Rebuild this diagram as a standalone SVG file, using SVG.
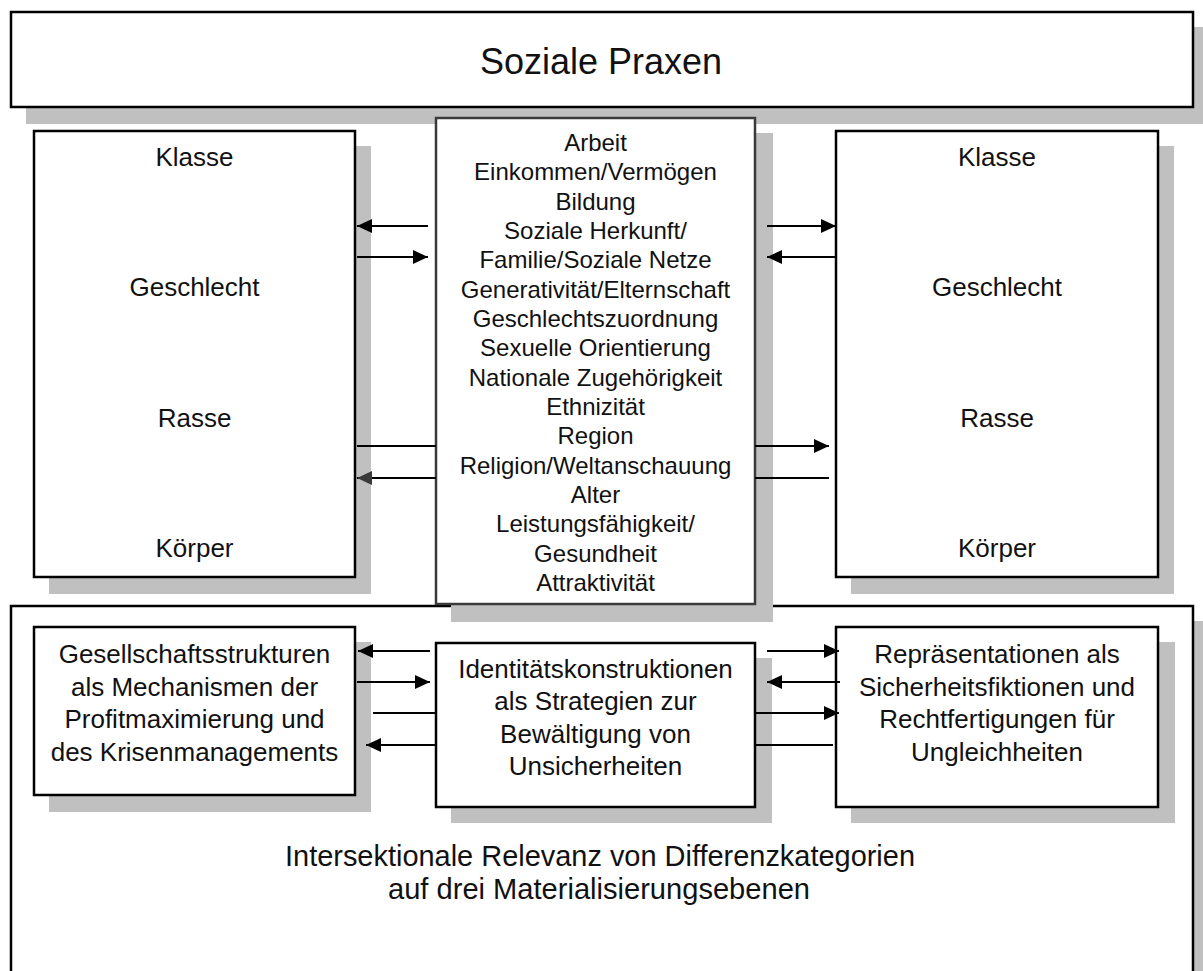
<svg xmlns="http://www.w3.org/2000/svg" width="1203" height="971" viewBox="0 0 1203 971">
<defs>
<style>
.sh{fill:#c0c0c0;stroke:none}
.bx{fill:#fff;stroke:#000;stroke-width:2.5}
.bxg{fill:#fff;stroke:#3a3a3a;stroke-width:2.5}
.t{font-family:"Liberation Sans",Arial,sans-serif;fill:#111;text-anchor:middle}
.t26{font-size:26px}
.t24{font-size:24px}
.t30{font-size:30px}
.t36{font-size:36px}
.c{stroke:#000;stroke-width:2;fill:none}
</style>
<marker id="ah" markerUnits="userSpaceOnUse" markerWidth="16" markerHeight="16" refX="15" refY="7" orient="auto">
<path d="M0,0 L15,7 L0,14 z" fill="#000"/>
</marker>
<marker id="ahg" markerUnits="userSpaceOnUse" markerWidth="16" markerHeight="16" refX="15" refY="7" orient="auto">
<path d="M0,0 L15,7 L0,14 z" fill="#3a3a3a"/>
</marker>
</defs>
<rect width="1203" height="971" fill="#fff"/>

<g id="soziale-praxen">
<rect class="sh" x="26" y="27" width="1182" height="97"/>
<rect class="bx" x="11" y="12" width="1182" height="95"/>
<text class="t t36" x="601" y="74">Soziale Praxen</text>
</g>

<g id="ebenen">
<rect class="sh" x="26" y="621" width="1182" height="360"/>
<rect class="bx" x="11" y="606" width="1182" height="380"/>
<text class="t t30" x="600" y="866" textLength="630" lengthAdjust="spacingAndGlyphs">Intersektionale Relevanz von Differenzkategorien</text>
<text class="t t30" x="599" y="899" textLength="422" lengthAdjust="spacingAndGlyphs">auf drei Materialisierungsebenen</text>
</g>

<g id="kategorien-links">
<rect class="sh" x="49" y="146" width="322" height="448"/>
<rect class="bx" x="34" y="131" width="321" height="446"/>
<text class="t t26" x="194.5" y="166">Klasse</text>
<text class="t t26" x="194.5" y="296">Geschlecht</text>
<text class="t t26" x="194.5" y="427">Rasse</text>
<text class="t t26" x="194.5" y="557">Körper</text>
</g>

<g id="kategorien-rechts">
<rect class="sh" x="851" y="146" width="323" height="448"/>
<rect class="bx" x="836" y="131" width="322" height="446"/>
<text class="t t26" x="997" y="166">Klasse</text>
<text class="t t26" x="997" y="296">Geschlecht</text>
<text class="t t26" x="997" y="427">Rasse</text>
<text class="t t26" x="997" y="557">Körper</text>
</g>

<g id="differenzkategorien">
<rect class="sh" x="451" y="133" width="322" height="489"/>
<rect class="bxg" x="436" y="118" width="319" height="486"/>
<text class="t t24" x="595.5" y="151">Arbeit</text>
<text class="t t24" x="595.5" y="180">Einkommen/Vermögen</text>
<text class="t t24" x="595.5" y="210">Bildung</text>
<text class="t t24" x="595.5" y="239">Soziale Herkunft/</text>
<text class="t t24" x="595.5" y="268">Familie/Soziale Netze</text>
<text class="t t24" x="595.5" y="298">Generativität/Elternschaft</text>
<text class="t t24" x="595.5" y="327">Geschlechtszuordnung</text>
<text class="t t24" x="595.5" y="356">Sexuelle Orientierung</text>
<text class="t t24" x="595.5" y="386">Nationale Zugehörigkeit</text>
<text class="t t24" x="595.5" y="415">Ethnizität</text>
<text class="t t24" x="595.5" y="444">Region</text>
<text class="t t24" x="595.5" y="474">Religion/Weltanschauung</text>
<text class="t t24" x="595.5" y="503">Alter</text>
<text class="t t24" x="595.5" y="532">Leistungsfähigkeit/</text>
<text class="t t24" x="595.5" y="562">Gesundheit</text>
<text class="t t24" x="595.5" y="591">Attraktivität</text>
</g>

<g id="gesellschaftsstrukturen">
<rect class="sh" x="49" y="642" width="322" height="170"/>
<rect class="bx" x="34" y="627" width="321" height="168"/>
<text class="t t26" x="194.5" y="663">Gesellschaftsstrukturen</text>
<text class="t t26" x="194.5" y="696">als Mechanismen der</text>
<text class="t t26" x="194.5" y="728">Profitmaximierung und</text>
<text class="t t26" x="194.5" y="761">des Krisenmanagements</text>
</g>

<g id="identitaetskonstruktionen">
<rect class="sh" x="451" y="658" width="321" height="165"/>
<rect class="bx" x="436" y="643" width="319" height="164"/>
<text class="t t26" x="595.5" y="678">Identitätskonstruktionen</text>
<text class="t t26" x="595.5" y="710">als Strategien zur</text>
<text class="t t26" x="595.5" y="743">Bewältigung von</text>
<text class="t t26" x="595.5" y="775">Unsicherheiten</text>
</g>

<g id="repraesentationen">
<rect class="sh" x="851" y="642" width="324" height="181"/>
<rect class="bx" x="836" y="627" width="322" height="180"/>
<text class="t t26" x="997" y="663">Repräsentationen als</text>
<text class="t t26" x="997" y="696">Sicherheitsfiktionen und</text>
<text class="t t26" x="997" y="728">Rechtfertigungen für</text>
<text class="t t26" x="997" y="761">Ungleichheiten</text>
</g>

<g id="connectors">
<line class="c" x1="428" y1="226" x2="357" y2="226" marker-end="url(#ah)"/>
<line class="c" x1="357" y1="257" x2="428" y2="257" marker-end="url(#ah)"/>
<line class="c" x1="767" y1="226" x2="836" y2="226" marker-end="url(#ah)"/>
<line class="c" x1="836" y1="257" x2="767" y2="257" marker-end="url(#ah)"/>
<line class="c" x1="357" y1="446" x2="436" y2="446"/>
<line class="c" x1="436" y1="478" x2="357" y2="478" marker-end="url(#ahg)"/>
<line class="c" x1="755" y1="446" x2="829" y2="446" marker-end="url(#ah)"/>
<line class="c" x1="755" y1="478" x2="829" y2="478"/>
<line class="c" x1="430" y1="651" x2="358" y2="651" marker-end="url(#ah)"/>
<line class="c" x1="357" y1="682" x2="430" y2="682" marker-end="url(#ah)"/>
<line class="c" x1="373" y1="713" x2="436" y2="713"/>
<line class="c" x1="436" y1="745" x2="366" y2="745" marker-end="url(#ah)"/>
<line class="c" x1="767" y1="651" x2="839" y2="651" marker-end="url(#ah)"/>
<line class="c" x1="840" y1="682" x2="767" y2="682" marker-end="url(#ah)"/>
<line class="c" x1="755" y1="713" x2="839" y2="713" marker-end="url(#ah)"/>
<line class="c" x1="755" y1="745" x2="833" y2="745"/>
</g>
</svg>
